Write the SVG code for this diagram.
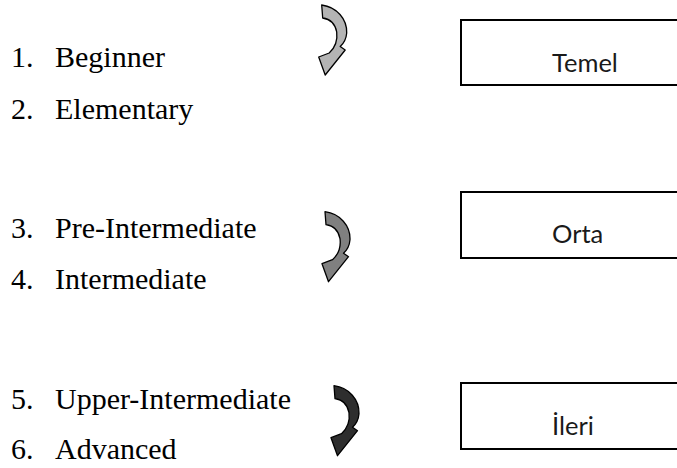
<svg xmlns="http://www.w3.org/2000/svg" width="677" height="468" viewBox="0 0 677 468">
<style>
.item{font-family:"Liberation Serif","Times New Roman",serif;font-size:30px;fill:#000}
.box{fill:#fff;stroke:#000;stroke-width:2}
.lbl{font-family:Lato,"DejaVu Sans",sans-serif;font-size:25.5px;fill:#1a1a1a}
.arr{stroke:#000;stroke-width:1.3;stroke-linejoin:round}
</style>
<defs>
<path id="curv" d="M 0 0 C 15 2 25.5 14 25 28 C 24.5 34 22.5 38 18.5 41.5 L 23.5 45 L 3.5 70 L -3 52 L 7.5 48 C 13 43 16 35 15 27 C 13.5 19 8 14 1 13 Z"/>
</defs>
<rect width="677" height="468" fill="#fff"/>
<g id="list">
<text class="item" x="11" y="67">1.</text><text class="item" x="55" y="67">Beginner</text>
<text class="item" x="11" y="119">2.</text><text class="item" x="55" y="119">Elementary</text>
<text class="item" x="11" y="238">3.</text><text class="item" x="55" y="238">Pre-Intermediate</text>
<text class="item" x="11" y="289">4.</text><text class="item" x="55" y="289">Intermediate</text>
<text class="item" x="11" y="409">5.</text><text class="item" x="55" y="409">Upper-Intermediate</text>
<text class="item" x="11" y="459">6.</text><text class="item" x="55" y="459">Advanced</text>
</g>
<g id="connectors">
<use href="#curv" class="arr" fill="#b4b4b4" transform="translate(321.7 5)"/>
<use href="#curv" class="arr" fill="#808080" transform="translate(325 211.7)"/>
<use href="#curv" class="arr" fill="#2e2e2e" transform="translate(334 385.7)"/>
</g>
<g id="temel">
<rect class="box" x="461" y="20" width="240" height="65"/>
<text class="lbl" x="552" y="72">Temel</text>
</g>
<g id="orta">
<rect class="box" x="461" y="192" width="240" height="66"/>
<text class="lbl" x="552" y="243">Orta</text>
</g>
<g id="ileri">
<rect class="box" x="461" y="383" width="240" height="66"/>
<text class="lbl" x="552" y="435">İleri</text>
</g>
</svg>
